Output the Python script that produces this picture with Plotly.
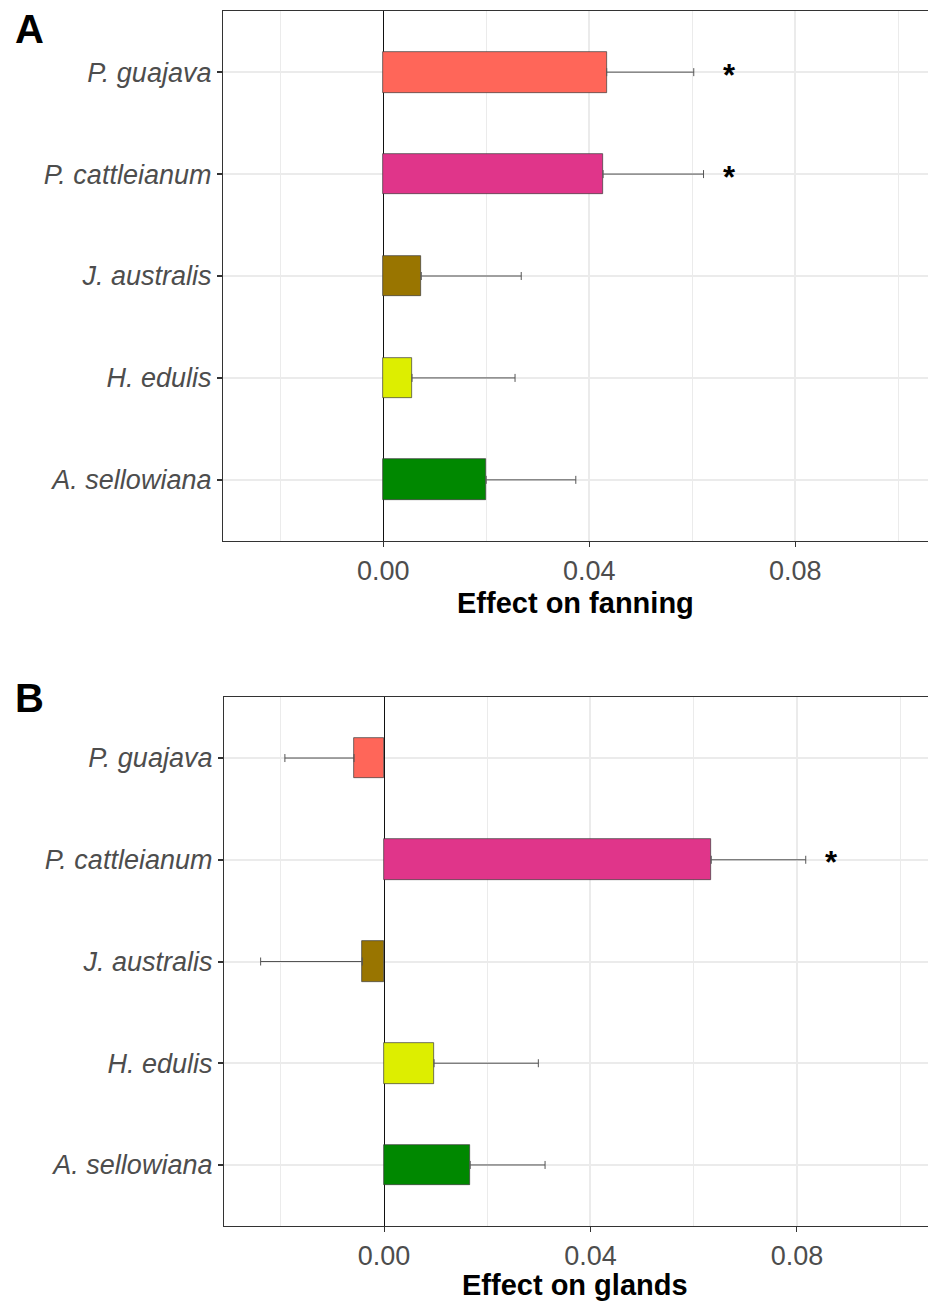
import plotly.graph_objects as go

# ---------------- data ----------------
species = ["P. guajava", "P. cattleianum", "J. australis", "H. edulis", "A. sellowiana"]
bar_colors = ["#FF6659", "#E0358A", "#997500", "#DDEE00", "#008800"]

fanning_effect = [0.0434, 0.0427, 0.0074, 0.0056, 0.0200]
fanning_se = [0.0169, 0.0195, 0.0194, 0.0200, 0.0174]
fanning_sig = [True, True, False, False, False]

glands_effect = [-0.0058, 0.0634, -0.0042, 0.0097, 0.0167]
glands_se = [0.0134, 0.0183, 0.0197, 0.0202, 0.0145]
glands_sig = [False, True, False, False, False]

x_tickvals = [0.00, 0.04, 0.08]
x_ticktext = ["0.00", "0.04", "0.08"]

# ---------------- layout constants ----------------
W, H = 928, 1303
FONT = "Liberation Sans"
GRID = "#EBEBEB"
LINE = "#333333"
TXT = "#4D4D4D"


def py(px):
    return 1 - px / H


fig = go.Figure()

panels = [
    dict(vals=fanning_effect, se=fanning_se, sig=fanning_sig, xa="x", ya="y",
         title="Effect on fanning", letter="A", top=11, bottom=541, left=223,
         zero_px=383.2, ppu=5150, title_y=603, letter_y=29),
    dict(vals=glands_effect, se=glands_se, sig=glands_sig, xa="x2", ya="y2",
         title="Effect on glands", letter="B", top=697, bottom=1226, left=224,
         zero_px=384.0, ppu=5162, title_y=1285, letter_y=698),
]

annotations = []
for i, p in enumerate(panels):
    plus = [s if v >= 0 else 0 for v, s in zip(p["vals"], p["se"])]
    minus = [s if v < 0 else 0 for v, s in zip(p["vals"], p["se"])]
    fig.add_trace(go.Bar(
        x=p["vals"], y=species, orientation="h", width=0.4,
        marker=dict(color=bar_colors, line=dict(color="#3A3A3A", width=0.7)),
        error_x=dict(type="data", symmetric=False, array=plus, arrayminus=minus,
                     color="#555555", thickness=1, width=4),
        xaxis=p["xa"], yaxis=p["ya"], showlegend=False, hoverinfo="x+y",
    ))
    # significance stars placed just beyond the largest error-bar end of the panel
    ends = [v + s if v >= 0 else v - s for v, s in zip(p["vals"], p["se"])]
    star_x = max(ends) + 0.005
    for sp, sg in zip(species, p["sig"]):
        if sg:
            annotations.append(dict(
                x=star_x, y=sp, xref=p["xa"], yref=p["ya"], text="<b>*</b>",
                showarrow=False, font=dict(family=FONT, size=31, color="black"),
                xanchor="center", yanchor="middle", yshift=-3))
    # axis title and panel letter
    annotations.append(dict(
        x=575 / W, y=py(p["title_y"]), xref="paper", yref="paper",
        text="<b>" + p["title"] + "</b>", showarrow=False,
        font=dict(family=FONT, size=29, color="black"),
        xanchor="center", yanchor="middle"))
    annotations.append(dict(
        x=29 / W, y=py(p["letter_y"]), xref="paper", yref="paper",
        text="<b>" + p["letter"] + "</b>", showarrow=False,
        font=dict(family=FONT, size=40, color="black"),
        xanchor="center", yanchor="middle"))

    xr = [(p["left"] - p["zero_px"]) / p["ppu"], (W - p["zero_px"]) / p["ppu"]]
    suffix = "" if i == 0 else "2"
    fig.update_layout(**{
        "xaxis" + suffix: dict(
            domain=[p["left"] / W, 1], range=xr, anchor=p["ya"],
            tickvals=x_tickvals, ticktext=x_ticktext,
            showgrid=True, gridcolor=GRID, gridwidth=1.8,
            minor=dict(tick0=0, dtick=0.02, showgrid=True, gridcolor=GRID,
                       gridwidth=1.4, ticklen=0),
            zeroline=True, zerolinecolor="#111111", zerolinewidth=1,
            showline=True, linecolor=LINE, linewidth=1.3, mirror=True,
            ticks="outside", ticklen=5, tickwidth=1.3, tickcolor=LINE,
            tickfont=dict(family=FONT, size=27, color=TXT),
            fixedrange=True,
        ),
        "yaxis" + suffix: dict(
            domain=[py(p["bottom"]), py(p["top"])], anchor=p["xa"],
            type="category", categoryorder="array", categoryarray=species[::-1],
            range=[-0.6, 4.6],
            showgrid=True, gridcolor=GRID, gridwidth=1.8,
            showline=True, linecolor=LINE, linewidth=1.3, mirror=False,
            ticks="outside", ticklen=5, tickwidth=1.5, tickcolor=LINE,
            tickfont=dict(family=FONT, size=27, color=TXT, style="italic"),
            fixedrange=True,
        ),
    })

fig.update_layout(
    width=W, height=H,
    margin=dict(l=0, r=0, t=0, b=0),
    paper_bgcolor="white", plot_bgcolor="white",
    bargap=0, annotations=annotations,
    font=dict(family=FONT),
)

fig.write_html("out.html", config={"displayModeBar": False},
               post_script="document.body.style.margin='0px';document.body.style.padding='0px';")
